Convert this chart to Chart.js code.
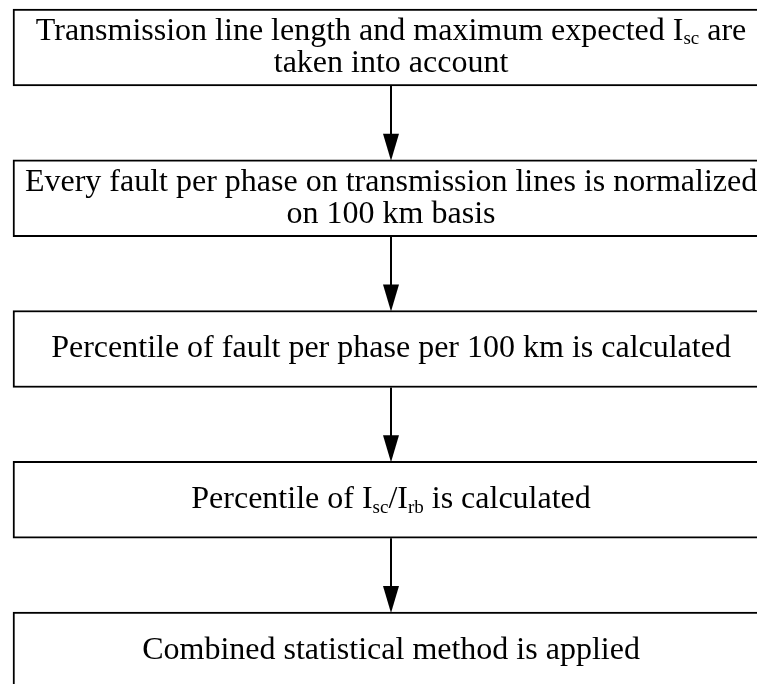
<!DOCTYPE html>
<html>
<head>
<meta charset="UTF-8">
<script src="https://cdn.jsdelivr.net/npm/chart.js@4"></script>
<style>
  body { margin: 0; background: #fff; }
  .flow { width: 757px; height: 684px; }
</style>
</head>
<body>
<div class="flow"><canvas id="flowChart"></canvas></div>
<script>
// one entry per box, lines separated, _{..} marks a subscript
const steps = [
  ["Transmission line length and maximum expected I_{sc} are", "taken into account"],
  ["Every fault per phase on transmission lines is normalized", "on 100 km basis"],
  ["Percentile of fault per phase per 100 km is calculated"],
  ["Percentile of I_{sc}/I_{rb} is calculated"],
  ["Combined statistical method is applied"]
];
const stepOrder = [0, 1, 2, 3, 4];
const stepSpan = [0, 1];

const fontSize = 32;
const squeeze = 1.0;

function parts(line) {
  const out = [];
  const re = /_\{([^}]*)\}/g;
  let last = 0, m;
  while ((m = re.exec(line)) !== null) {
    if (m.index > last) out.push({ t: line.slice(last, m.index), sub: false });
    out.push({ t: m[1], sub: true });
    last = re.lastIndex;
  }
  if (last < line.length) out.push({ t: line.slice(last), sub: false });
  return out;
}

function fontFor(sub) {
  return (sub ? Math.round(fontSize * 0.58) : fontSize) + "px 'Liberation Serif', 'Times New Roman', serif";
}

const flowPlugin = {
  id: 'flow',
  afterDatasetsDraw(chart) {
    const ctx = chart.ctx;
    const bars = chart.getDatasetMeta(0).data;
    ctx.save();
    ctx.fillStyle = '#000';
    ctx.strokeStyle = '#000';
    // arrows between boxes
    for (let i = 0; i < bars.length - 1; i++) {
      const a = bars[i].getProps(['x', 'y', 'base', 'height'], true);
      const b = bars[i + 1].getProps(['x', 'y', 'base', 'height'], true);
      const cx = Math.round((a.x + a.base) / 2);
      const y0 = a.y + a.height / 2;
      const y1 = b.y - b.height / 2;
      ctx.lineWidth = 2;
      ctx.beginPath();
      ctx.moveTo(cx, y0);
      ctx.lineTo(cx, y1 - 24);
      ctx.stroke();
      ctx.beginPath();
      ctx.moveTo(cx, y1 + 1);
      ctx.lineTo(cx - 8, y1 - 26);
      ctx.lineTo(cx + 8, y1 - 26);
      ctx.closePath();
      ctx.fill();
    }
    // box texts
    ctx.textBaseline = 'middle';
    ctx.textAlign = 'left';
    bars.forEach((bar, i) => {
      const p = bar.getProps(['x', 'y', 'base', 'height'], true);
      const cx = (p.x + p.base) / 2;
      const lines = steps[i];
      const lh = 32;
      lines.forEach((line, j) => {
        const ly = p.y + (j - (lines.length - 1) / 2) * lh;
        const segs = parts(line);
        let w = 0;
        segs.forEach(s => { ctx.font = fontFor(s.sub); s.w = ctx.measureText(s.t).width; w += s.w; });
        ctx.save();
        ctx.translate(cx, ly);
        ctx.scale(squeeze, 1);
        let x = -w / 2;
        segs.forEach(s => {
          ctx.font = fontFor(s.sub);
          ctx.fillText(s.t, x, s.sub ? 8 : 0);
          x += s.w;
        });
        ctx.restore();
      });
    });
    ctx.restore();
  }
};

const data = {
  labels: stepOrder.map(i => 'step ' + (i + 1)),
  datasets: [{
    data: stepOrder.map(i => ({ x: stepSpan, y: i })),
    backgroundColor: '#fff',
    borderColor: '#000',
    borderWidth: 2,
    borderSkipped: false,
    barThickness: 77
  }]
};

const config = {
  type: 'bar',
  data,
  options: {
    indexAxis: 'y',
    responsive: true,
    maintainAspectRatio: false,
    animation: false,
    layout: { padding: 0 },
    plugins: { legend: { display: false }, tooltip: { enabled: false } },
    scales: {
      x: { type: 'linear', min: -0.0172, max: 0.984, offset: false, display: false },
      y: { type: 'linear', reverse: true, min: -0.3151, max: 4.2222, offset: false, display: false }
    }
  },
  plugins: [flowPlugin]
};

const flowChart = new Chart(document.getElementById('flowChart'), config);
</script>
</body>
</html>
